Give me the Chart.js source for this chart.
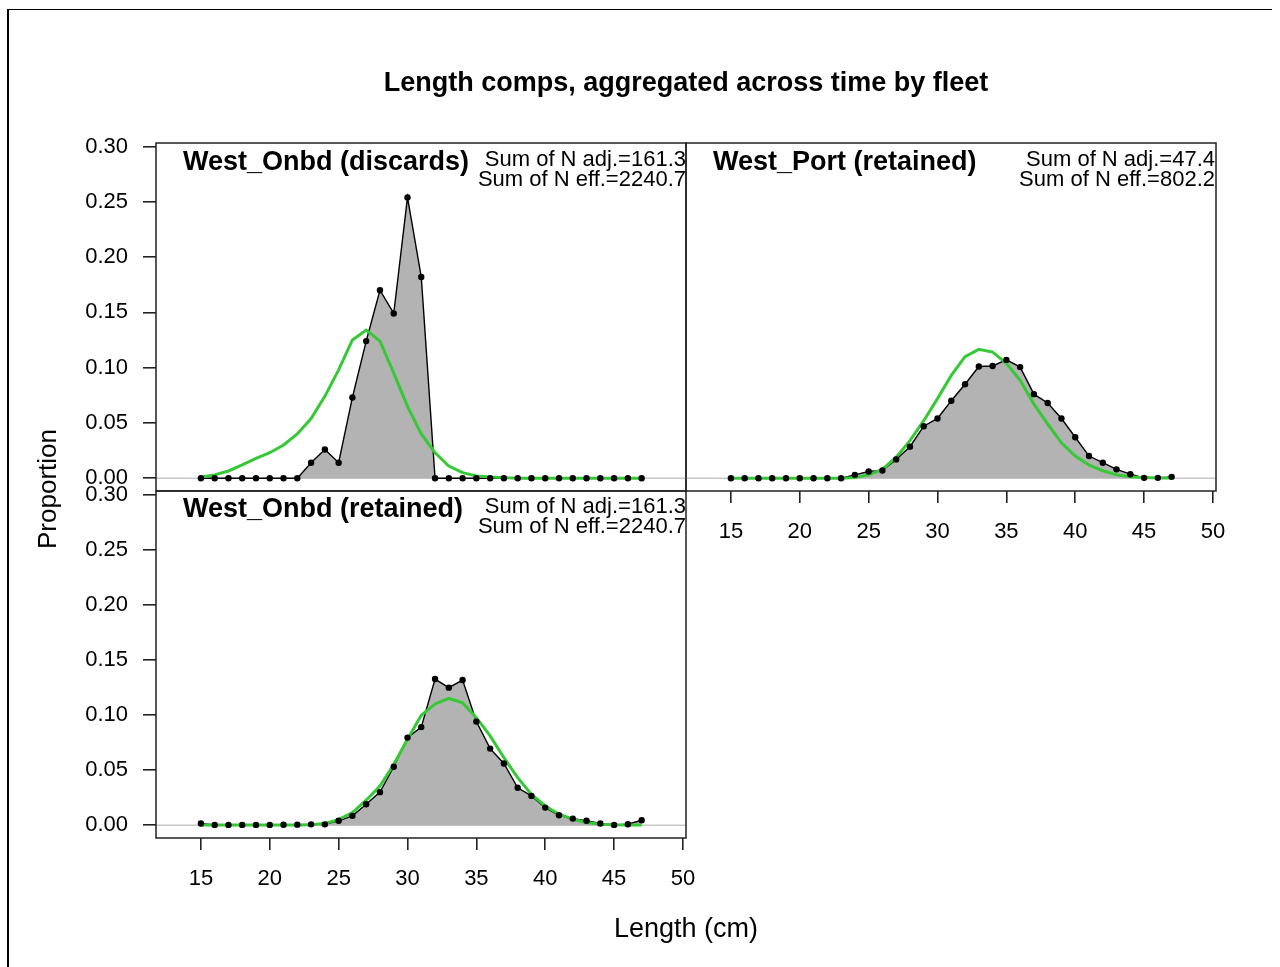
<!DOCTYPE html>
<html>
<head>
<meta charset="utf-8">
<script src="https://cdn.jsdelivr.net/npm/chart.js@4/dist/chart.umd.min.js"></script>
<style>
html,body{margin:0;padding:0;background:#fff;}
#wrap{position:relative;width:1280px;height:967px;overflow:hidden;font-family:"Liberation Sans",Arial,sans-serif;color:#000;background:#fff;}
canvas{position:absolute;left:0;top:0;}
.t{position:absolute;white-space:nowrap;line-height:1;}
#frameTop{position:absolute;left:8px;top:9px;width:1264px;height:0;border-top:1.5px solid #000;}
#frameLeft{position:absolute;left:7px;top:9px;width:0;height:958px;border-left:2px solid #000;}
</style>
</head>
<body>
<div id="wrap">
  <div id="frameTop"></div>
  <div id="frameLeft"></div>
  <canvas id="c1" width="1280" height="967"></canvas>
  <canvas id="c2" width="1280" height="967"></canvas>
  <canvas id="c3" width="1280" height="967"></canvas>
</div>
<script>
// ---------------- DATA ----------------
const lengthBins = [15,16,17,18,19,20,21,22,23,24,25,26,27,28,29,30,31,32,33,34,35,36,37,38,39,40,41,42,43,44,45,46,47];

const obsDiscards = [0,0,0,0,0,0,0,0,0.014,0.026,0.014,0.073,0.124,0.170,0.149,0.254,0.182,0,
  0,0,0,0,0,0,0,0,0,0,0,0,0,0,0];
const expDiscards = [0.001,0.003,0.0065,0.012,0.018,0.023,0.030,0.040,0.054,0.074,0.098,0.125,0.134,0.124,0.095,0.065,0.040,0.023,
  0.011,0.005,0.002,0.001,0.0005,0,0,0,0,0,0,0,0,0,0];

const obsPort = [0,0,0,0,0,0,0,0,0,0.003,0.006,0.007,0.017,0.0285,0.047,0.054,0.070,0.085,
  0.101,0.1015,0.107,0.1005,0.076,0.068,0.054,0.037,0.020,0.014,0.008,0.0036,0.0003,0.0003,0.0012];
const expPort = [0,0,0,0,0,0,0,0,0,0.0005,0.003,0.008,0.019,0.034,0.052,0.072,0.093,0.110,
  0.1165,0.114,0.104,0.0885,0.067,0.049,0.032,0.020,0.012,0.0067,0.003,0.0012,0.0005,0.0002,0.0001];

const obsRetained = [0.0015,0.0003,0.0003,0.0003,0.0003,0.0003,0.0004,0.0005,0.0008,0.0008,0.004,0.0085,0.019,0.030,0.053,0.0795,0.089,0.1326,
  0.1248,0.1317,0.094,0.0695,0.056,0.034,0.0266,0.016,0.009,0.006,0.004,0.0015,0.0003,0.0009,0.0045];
const expRetained = [0.0001,0.0001,0.0001,0.0001,0.0001,0.0001,0.0001,0.0001,0.0005,0.0015,0.005,0.0115,0.0227,0.0356,0.055,0.078,0.0997,0.110,
  0.115,0.111,0.0976,0.081,0.0613,0.0432,0.028,0.0175,0.010,0.0054,0.0024,0.0009,0.0004,0.0002,0.0001];

const xTickValues = [15,20,25,30,35,40,45,50];
const xTickLabels = ["15","20","25","30","35","40","45","50"];
const yTickValues = [0,0.05,0.10,0.15,0.20,0.25,0.30];
const yTickLabels = ["0.00","0.05","0.10","0.15","0.20","0.25","0.30"];

const panelTitles = ["West_Onbd (discards)","West_Port (retained)","West_Onbd (retained)"];
const sumAdjLabels = ["Sum of N adj.=161.3","Sum of N adj.=47.4","Sum of N adj.=161.3"];
const sumEffLabels = ["Sum of N eff.=2240.7","Sum of N eff.=802.2","Sum of N eff.=2240.7"];
const mainTitle = "Length comps, aggregated across time by fleet";
const yAxisTitle = "Proportion";
const xAxisTitle = "Length (cm)";

// ---------------- STYLE / LAYOUT ----------------
const FONT = '"Liberation Sans", Arial, sans-serif';
const X_MIN = 11.74, X_MAX = 50.22;
const Y_MIN = -0.0116, Y_MAX = 0.3032;
const Y_AXIS_W = 70, X_AXIS_H = 60;

const boxPlugin = {
  id: 'panelBox',
  afterDatasetsDraw(chart) {
    const {ctx, chartArea: a} = chart;
    ctx.save();
    ctx.strokeStyle = '#222';
    ctx.lineWidth = 1.5;
    ctx.strokeRect(a.left, a.top, a.right - a.left, a.bottom - a.top);
    ctx.restore();
  }
};

function pts(arr) { return lengthBins.map((x, i) => ({x: x, y: arr[i]})); }

function makePanel(id, obs, exp, showX, showY, pad) {
  const ctx = document.getElementById(id).getContext('2d');
  const obsPts = pts(obs);
  return new Chart(ctx, {
    type: 'line',
    data: {
      datasets: [
        {data: [{x: X_MIN, y: 0}, {x: X_MAX, y: 0}], borderColor: '#c8c8c8', borderWidth: 1.5, pointRadius: 0, fill: false, order: 4},
        {data: obsPts, borderColor: '#000', borderWidth: 1.4, backgroundColor: '#b3b3b3', fill: 'origin', pointRadius: 0, order: 3},
        {data: pts(exp), borderColor: '#35c935', borderWidth: 3, pointRadius: 0, fill: false, order: 2},
        {data: obsPts, showLine: false, pointRadius: 3.2, pointBackgroundColor: '#000', pointBorderColor: '#000', pointBorderWidth: 0, order: 1}
      ]
    },
    options: {
      responsive: false,
      animation: false,
      devicePixelRatio: 1,
      events: [],
      layout: {padding: pad},
      elements: {line: {tension: 0}},
      plugins: {legend: {display: false}, tooltip: {enabled: false}},
      scales: {
        x: {
          type: 'linear', min: X_MIN, max: X_MAX, display: showX,
          afterBuildTicks: s => { s.ticks = xTickValues.map(v => ({value: v})); },
          afterFit: s => { s.height = showX ? X_AXIS_H : 0; },
          ticks: {font: {size: 22, family: FONT}, color: '#000', padding: 16, autoSkip: false, maxRotation: 0,
                  callback: (v, i) => xTickLabels[i]},
          grid: {display: true, drawOnChartArea: false, drawTicks: true, tickLength: 12, color: '#222', lineWidth: 1.6},
          border: {display: false}
        },
        y: {
          type: 'linear', min: Y_MIN, max: Y_MAX, display: showY,
          afterBuildTicks: s => { s.ticks = yTickValues.map(v => ({value: v})); },
          afterFit: s => { s.width = showY ? Y_AXIS_W : 0; },
          ticks: {font: {size: 22, family: FONT}, color: '#000', padding: 15, autoSkip: false,
                  callback: (v, i) => yTickLabels[i]},
          grid: {display: true, drawOnChartArea: false, drawTicks: true, tickLength: 13, color: '#222', lineWidth: 1.6},
          border: {display: false}
        }
      }
    },
    plugins: [boxPlugin]
  });
}

// panel 1: top-left (area 156..686 x 143..491)
makePanel('c1', obsDiscards, expDiscards, false, true, {left: 156 - Y_AXIS_W, top: 143, right: 1280 - 686, bottom: 967 - 491});
// panel 2: top-right (area 686..1216 x 143..491)
makePanel('c2', obsPort, expPort, true, false, {left: 686, top: 143, right: 1280 - 1216, bottom: 967 - 491 - X_AXIS_H});
// panel 3: bottom-left (area 156..686 x 491..838)
makePanel('c3', obsRetained, expRetained, true, true, {left: 156 - Y_AXIS_W, top: 491, right: 1280 - 686, bottom: 967 - 838 - X_AXIS_H});

// ---------------- TEXT ----------------
const wrap = document.getElementById('wrap');
function addText(str, x, y, size, bold, align, rotate) {
  const d = document.createElement('div');
  d.className = 't';
  d.textContent = str;
  d.style.left = x + 'px';
  d.style.top = y + 'px';
  d.style.fontSize = size + 'px';
  d.style.fontWeight = bold ? 'bold' : 'normal';
  const tx = align === 'left' ? '0' : (align === 'right' ? '-100%' : '-50%');
  d.style.transformOrigin = '0 0';
  d.style.transform = (rotate ? 'rotate(-90deg) ' : '') + 'translate(' + tx + ',-50%)';
  wrap.appendChild(d);
}
addText(mainTitle, 686, 82, 27, true, 'center');
addText(yAxisTitle, 47, 489, 26, false, 'center', true);
addText(xAxisTitle, 686, 928, 27, false, 'center');

const titlePos = [[183, 161], [713, 161], [183, 508]];
const sumPos = [[686, 159, 179], [1215, 159, 179], [686, 506, 526]];
for (let i = 0; i < 3; i++) {
  addText(panelTitles[i], titlePos[i][0], titlePos[i][1], 27, true, 'left');
  addText(sumAdjLabels[i], sumPos[i][0], sumPos[i][1], 22, false, 'right');
  addText(sumEffLabels[i], sumPos[i][0], sumPos[i][2], 22, false, 'right');
}
</script>
</body>
</html>
